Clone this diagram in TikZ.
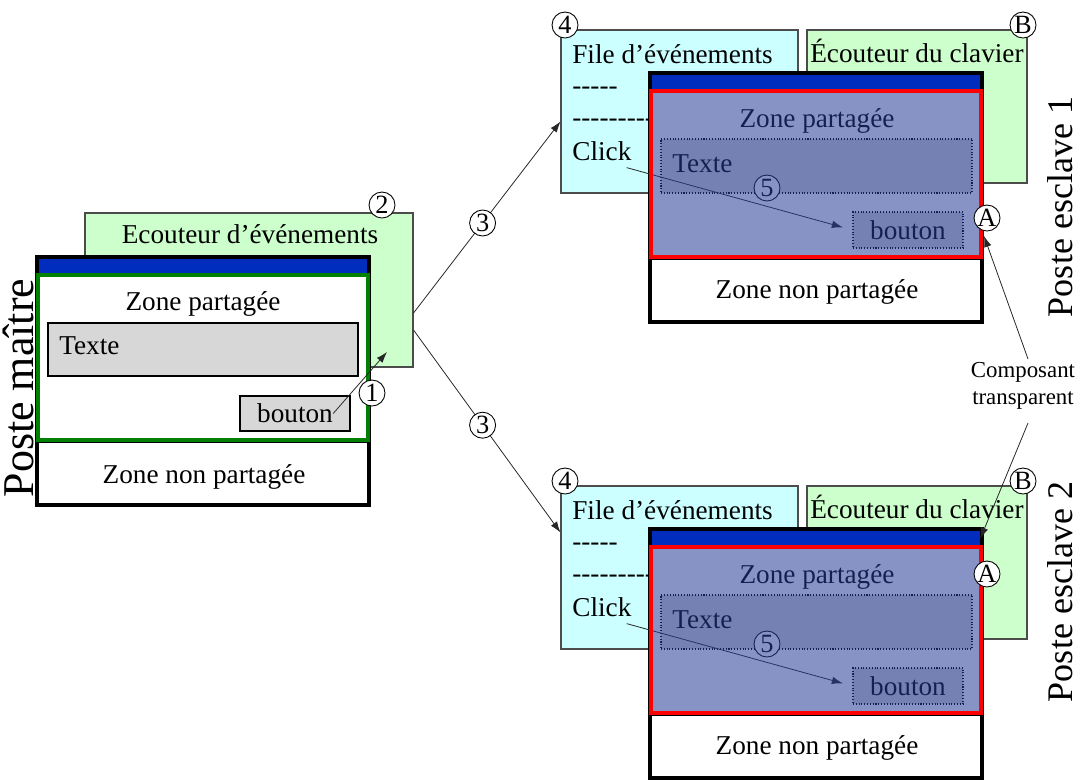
\documentclass[tikz,border=0pt]{standalone}
\usepackage{fontspec}
\setmainfont{Liberation Serif}
\usepackage{tikz}
\usetikzlibrary{arrows.meta,positioning,calc,fit}

\begin{document}
\begin{tikzpicture}[
  x=0.02cm, y=-0.02cm,
  every node/.style={font=\fontsize{15.5}{18}\selectfont, inner sep=0pt},
  panel/.style={draw=black!70, line width=0.6pt},
  winframe/.style={draw=black, line width=2.2pt},
  slot/.style={draw=black, line width=0.6pt, fill=boxgray},
  numcirc/.style={circle, draw=black, fill=white, line width=0.5pt,
    minimum size=0.52cm, font=\fontsize{15}{15}\selectfont},
  flow/.style={-{Latex[length=2.2mm,width=1.5mm]}, line width=0.45pt, draw=black!85},
  veil/.style={fill=veilblue, fill opacity=0.55}
]

\definecolor{listengreen}{RGB}{204,255,204}
\definecolor{queuecyan}{RGB}{204,255,255}
\definecolor{barblue}{RGB}{0,45,190}
\definecolor{sharegreen}{RGB}{0,128,0}
\definecolor{zonered}{RGB}{255,0,0}
\definecolor{boxgray}{RGB}{215,215,215}
\definecolor{veilblue}{RGB}{40,60,150}

\useasboundingbox (0,0) rectangle (1082,779);

% Poste maitre (coordinates are pixels of the original figure)
\node[panel, fill=listengreen, fit={(85,213) (413,367)}] (ecoutM) {};
\node[anchor=base] (ecoutMt) at (250,243) {Ecouteur d’événements};
\node[winframe, fill=white, fit={(37,257) (369,505)}] (winM) {};
\node[fill=barblue, fit={(39,259) (367,274)}] (barM) {};
\node[winframe, fit={(37,441) (369,505)}] (nonM) {};
\node[draw=sharegreen, line width=1.8pt, fit={(38,275) (368,440)}] (shareM) {};
\node[anchor=base] (zoneMt) at (203,310) {Zone partagée};
\node[slot, fit={(48,323) (358,376)}] (texteM) {};
\node[anchor=base west] (texteMt) at (59,354) {Texte};
\node[slot, fit={(240,396) (350,431)}] (boutonM) {};
\node (boutonMt) at (boutonM) {bouton};
\node[anchor=base] (nonMt) at (204,483) {Zone non partagée};
\node[rotate=90, font=\fontsize{25}{25}\selectfont] (posteM) at (18,388) {Poste maître};

\coordinate (hitM) at (387,352);
\draw[flow] (boutonMt.east) -- (hitM);
\node[numcirc] (n1) at (372,393) {1};
\node[numcirc] (n2) at (382,205) {2};

% Postes esclaves
\foreach \s/\dy/\ay in {1/0/218, 2/456/118} {
\begin{scope}[shift={(0,\dy)}]
  \node[panel, fill=queuecyan, fit={(561,30) (798,193)}] (file\s) {};
  \node[anchor=base west] (filet\s) at (572,63) {File d’événements};
  \node[anchor=base west] (dashA\s) at (572,94) {-\kern0pt-\kern0pt-\kern0pt-\kern0pt-};
  \node[anchor=base west] (dashB\s) at (572,126)
    {-\kern0pt-\kern0pt-\kern0pt-\kern0pt-\kern0pt-\kern0pt-\kern0pt-\kern0pt-};
  \node[anchor=base west] (click\s) at (572,160) {Click};
  \node[panel, fill=listengreen, fit={(807,30) (1027,183)}] (ecout\s) {};
  \node[anchor=base west] (ecoutt\s) at (810,62) {Écouteur du clavier};

  \node[winframe, fill=white, fit={(650,73) (982,322)}] (win\s) {};
  \node[fill=barblue, fit={(652,75) (980,90)}] (bar\s) {};
  \node[winframe, fit={(650,258) (982,322)}] (non\s) {};
  \node[anchor=base] (nont\s) at (817,298) {Zone non partagée};
  \node[anchor=base] (zonet\s) at (817,127) {Zone partagée};
  \node[slot, densely dotted, fit={(661,139) (972,193)}] (texte\s) {};
  \node[anchor=base west] (textet\s) at (672,172) {Texte};
  \node[slot, densely dotted, fit={(853,212) (963,248)}] (bouton\s) {};
  \node (boutont\s) at (bouton\s) {bouton};
  \draw[flow, shorten >=0.2cm] ([shift={(-5,7)}]click\s.south east) -- (bouton\s.west);
  \node[numcirc] (n5\s) at (767,188) {5};
  \node[veil, fit={(651,91) (981,257)}] (veil\s) {};
  \node[draw=zonered, line width=1.8pt, fit={(651,91) (981,257)}] (share\s) {};

  \node[numcirc] (n4\s) at (565,25) {4};
  \node[numcirc] (nB\s) at (1023,25) {B};
  \node[numcirc] (nA\s) at (987,\ay) {A};
\end{scope}
}

\node[rotate=90, font=\fontsize{20.5}{20.5}\selectfont] (posteE1) at (1060,207) {Poste esclave 1};
\node[rotate=90, font=\fontsize{20.5}{20.5}\selectfont] (posteE2) at (1060,592) {Poste esclave 2};

% diffusion des evenements
\draw[flow] ([shift={(0,23)}]ecoutM.east) -- node[numcirc, pos=0.47] (n3a) {3}
  ([shift={(0,10)}]file1.west);
\draw[flow] ([shift={(0,40)}]ecoutM.east) -- node[numcirc, pos=0.47] (n3b) {3}
  ([shift={(0,-35)}]file2.west);

% composant transparent
\node[align=center, inner sep=2pt, font=\fontsize{13}{15}\selectfont] (comp) at (1023,386)
  {Composant\\transparent};
\coordinate (hitA1) at (984,236);
\draw[flow] ([shift={(5,0)}]comp.north) -- (hitA1);
\draw[flow] ([shift={(5,10)}]comp.south) -- (bar2.east);

\end{tikzpicture}
\end{document}
